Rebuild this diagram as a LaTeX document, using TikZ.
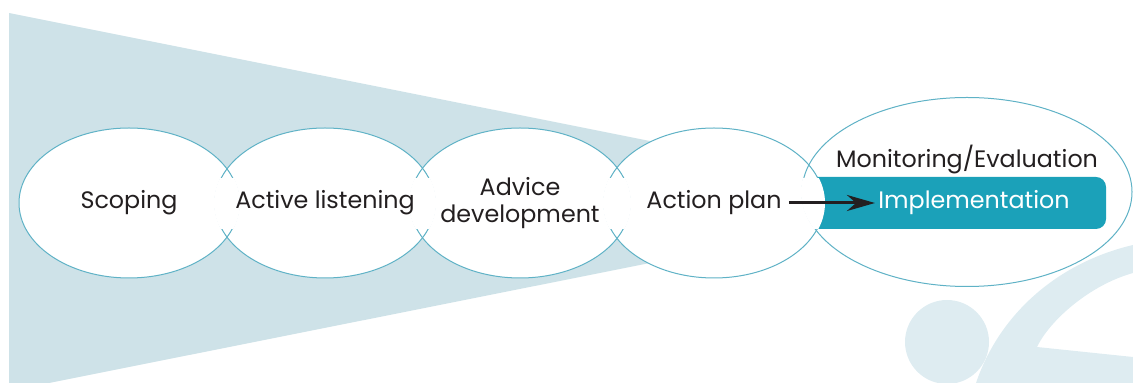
\documentclass[tikz,border=0pt]{standalone}
\usepackage{fontspec}
\setmainfont{Poppins}
\usetikzlibrary{shapes.geometric, arrows.meta}

\definecolor{funnel}{RGB}{206,226,232}
\definecolor{swirl}{RGB}{222,236,241}
\definecolor{rim}{RGB}{95,178,198}
\definecolor{tealbox}{RGB}{27,161,185}
\definecolor{ink}{RGB}{35,31,32}

\begin{document}
\begin{tikzpicture}[x=0.5pt, y=-0.5pt,
  stage/.style={ellipse, fill=white, minimum width=110pt, minimum height=75pt, inner sep=0pt},
  word/.style={font=\fontsize{11.9}{13.5}\selectfont, text=ink, align=center, inner sep=1.5pt}]

  \useasboundingbox (0,0) rectangle (1133,383);

  % background shapes
  \fill[funnel] (9,13) -- (700,151) -- (700,253) -- (9,391) -- cycle;
  \fill[swirl] (947,342) circle (42);
  \fill[swirl] (976,383) .. controls (1000,312) and (1060,262) .. (1133,245)
    -- (1133,273) .. controls (1090,285) and (1050,320) .. (1037,347)
    -- (1133,357) -- (1133,383) -- cycle;

  % last stage and its bar
  \node[stage, minimum width=165pt, minimum height=94.5pt] (monitor) at (967,192) {};
  \fill[tealbox, rounded corners=5pt] (790,177) rectangle (1106,229);

  % the four stages
  \node[stage] (scoping) at (129,203) {};
  \node[stage] (listen) at (325,203) {};
  \node[stage] (advice) at (520,203) {};
  \node[stage] (plan) at (714,203) {};

  \foreach \n/\rx/\ry in {monitor/165/94.5, scoping/110/75, listen/110/75, advice/110/75, plan/110/75}
    \draw[rim, line width=0.5pt] (\n.center) ellipse [x radius=\rx, y radius=\ry];

  % open the overlaps behind the words
  \foreach \a/\b/\rx/\ry in {scoping/listen/111/76, listen/advice/111/76, advice/plan/111/76, plan/monitor/166/95.5} {
    \begin{scope}
      \clip (\a.center) ellipse [x radius=111, y radius=76];
      \clip (\b.center) ellipse [x radius=\rx, y radius=\ry];
      \fill[white] (0,178) rectangle (1133,229);
    \end{scope}
  }

  \node[word] (scoping_txt) at (scoping.center) {Scoping};
  \node[word] (listen_txt) at (listen.center) {Active listening};
  \node[word] (advice_txt) at (advice.center) {Advice\\development};
  \node[word] (plan_txt) at (plan.center) {Action plan};
  \node[word] (monitor_txt) at (967,160) {Monitoring/Evaluation};
  \node[word, text=white] (impl_txt) at (974,203) {Implementation};

  \draw[-{Stealth[length=14pt, width=8pt]}, line width=1.5pt, ink, shorten <=2pt]
    (plan_txt.east) -- (impl_txt.west);

\end{tikzpicture}
\end{document}
